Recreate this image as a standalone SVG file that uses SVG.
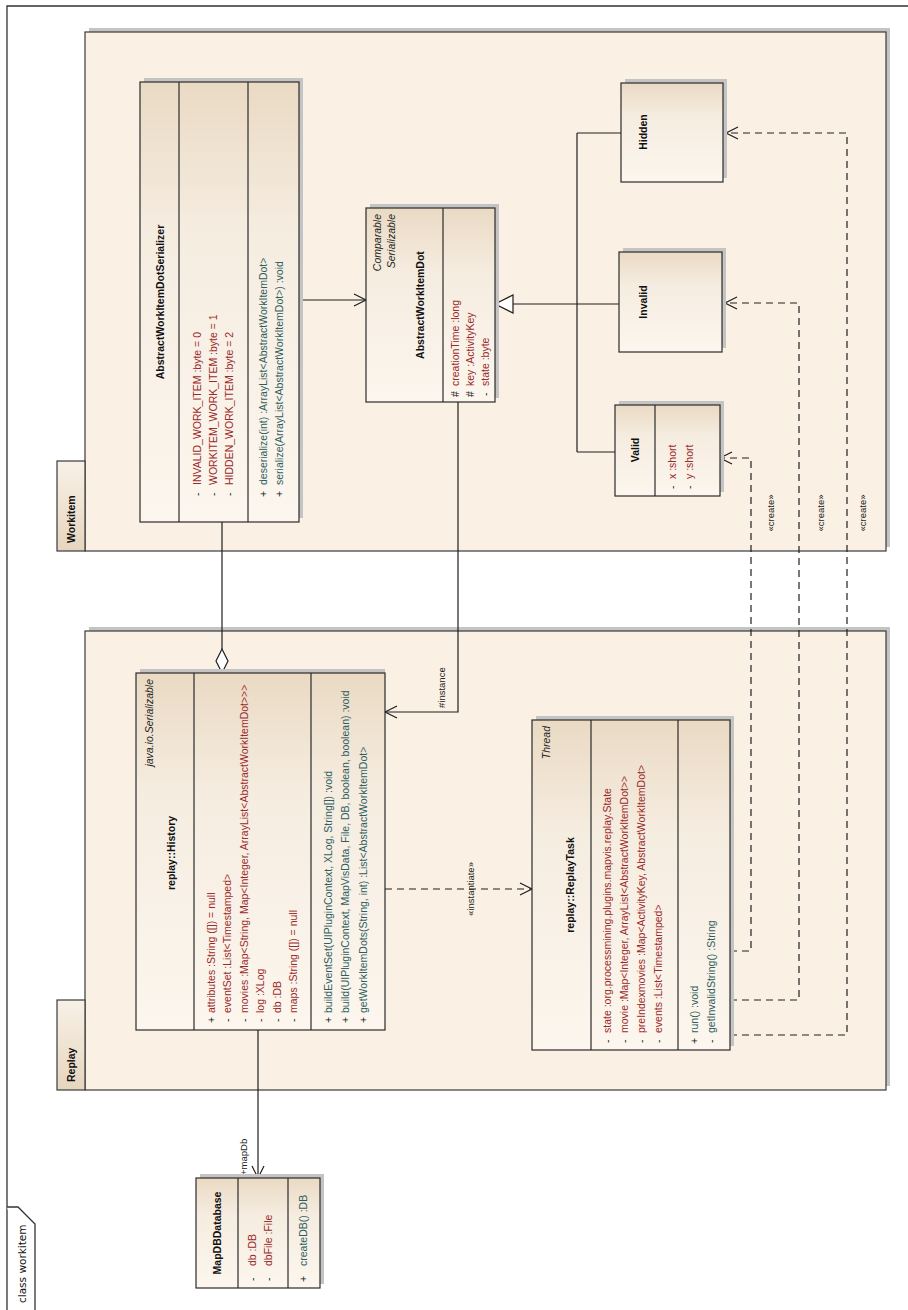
<svg xmlns="http://www.w3.org/2000/svg" width="908" height="1310" viewBox="0 0 908 1310">
  <defs>
    <linearGradient id="clsFill" x1="0" y1="0" x2="0" y2="1">
      <stop offset="0" stop-color="#EADAC4"/>
      <stop offset="0.35" stop-color="#F6EDE1"/>
      <stop offset="1" stop-color="#FCF6EE"/>
    </linearGradient>
    <linearGradient id="tabFill" x1="0" y1="0" x2="0" y2="1">
      <stop offset="0" stop-color="#F8F1E7"/>
      <stop offset="1" stop-color="#E6D5BE"/>
    </linearGradient>
  </defs>
  <style>
    .frame{fill:none;stroke:#333;stroke-width:1.3}
    .pkg{fill:#FAF0E3;stroke:#3a3a3a;stroke-width:1.2}
    .tab{fill:url(#tabFill);stroke:#3a3a3a;stroke-width:1.2}
    .shadow{fill:#C4C4C4}
    .cls{fill:url(#clsFill);stroke:#2b2b2b;stroke-width:1.2}
    .sep{stroke:#2b2b2b;stroke-width:1.2}
    .t{font-family:"Liberation Sans",Arial,sans-serif;font-size:10.5px;fill:#222}
    .nm{font-weight:bold;font-size:10.5px;fill:#111}
    .st{font-style:italic}
    .at{fill:#9A2A2A}
    .op{fill:#2E5E5E}
    .lbl{font-family:"Liberation Sans",Arial,sans-serif;font-size:9.5px;fill:#222}
    .ln{fill:none;stroke:#1e1e1e;stroke-width:1.2}
    .dash{stroke-dasharray:7,5}
    .head{fill:none;stroke:#1e1e1e;stroke-width:1.2}
  </style>

  <!-- diagram frame -->
  <g id="frame">
    <path class="frame" d="M7,1310 V6 H908"/>
    <path d="M7,1207 H18 L35,1224 V1310" fill="#fff" stroke="#333" stroke-width="1.3"/>
    <text transform="translate(26,1303) rotate(-90)" style="font-family:'DejaVu Sans',sans-serif;font-size:10.5px;fill:#111">class workitem</text>
  </g>

  <!-- packages -->
  <g id="pkg-workitem">
    <rect class="shadow" x="89" y="28" width="801" height="519"/>
    <rect class="pkg" x="85" y="32" width="801" height="519"/>
    <rect class="tab" x="57" y="461" width="28" height="90"/>
    <text class="t nm" transform="translate(75,543) rotate(-90)">Workitem</text>
  </g>
  <g id="pkg-replay">
    <rect class="shadow" x="89" y="627" width="801" height="459"/>
    <rect class="pkg" x="85" y="631" width="801" height="459"/>
    <rect class="tab" x="57" y="1000" width="28" height="90"/>
    <text class="t nm" transform="translate(75,1082) rotate(-90)">Replay</text>
  </g>

  <!-- connectors -->
  <g id="connectors">
    <!-- Serializer uses AbstractWorkItemDot -->
    <path class="ln" d="M299,300 H366"/>
    <path class="head" d="M354,294 L366,300 L354,306"/>
    <!-- aggregation Serializer <> History -->
    <path class="ln" d="M222,522 V649"/>
    <path d="M222,673 L228,661 L222,649 L216,661 Z" fill="#fff" stroke="#1e1e1e" stroke-width="1.2"/>
    <!-- History #instance -> AbstractWorkItemDot -->
    <path class="ln" d="M458,402 V712 H385"/>
    <path class="head" d="M397,706 L385,712 L397,718"/>
    <text class="lbl" transform="translate(445,708) rotate(-90)">#instance</text>
    <!-- History +mapDb -> MapDBDatabase -->
    <path class="ln" d="M258,1030 V1178"/>
    <path class="head" d="M252,1166 L258,1178 L264,1166"/>
    <text class="lbl" transform="translate(247,1175) rotate(-90)">+mapDb</text>
    <!-- History instantiates ReplayTask -->
    <path class="ln dash" d="M385,889 H532"/>
    <path class="head" d="M520,883 L532,889 L520,895"/>
    <text class="lbl" text-anchor="middle" transform="translate(474,889) rotate(-90)">«instantiate»</text>
    <!-- generalization: Valid / Invalid / Hidden -> AbstractWorkItemDot -->
    <path class="ln" d="M513,304 H577 M577,133 V452 M577,133 H621 M577,304 H619 M577,452 H615"/>
    <path d="M495,304 L513,295 L513,313 Z" fill="#fff" stroke="#1e1e1e" stroke-width="1.2"/>
    <!-- ReplayTask creates Valid / Invalid / Hidden -->
    <path class="ln dash" d="M730,951 H751 V458 H720"/>
    <path class="head" d="M732,452 L720,458 L732,464"/>
    <path class="ln dash" d="M730,1000 H799 V303 H725"/>
    <path class="head" d="M737,297 L725,303 L737,309"/>
    <path class="ln dash" d="M730,1035 H847 V133 H726"/>
    <path class="head" d="M738,127 L726,133 L738,139"/>
    <text class="lbl" text-anchor="middle" transform="translate(774,513) rotate(-90)">«create»</text>
    <text class="lbl" text-anchor="middle" transform="translate(824,513) rotate(-90)">«create»</text>
    <text class="lbl" text-anchor="middle" transform="translate(866,513) rotate(-90)">«create»</text>
  </g>

  <!-- AbstractWorkItemDotSerializer -->
  <g id="cls-serializer">
    <rect class="shadow" x="144" y="78" width="159" height="440"/>
    <rect class="cls" x="140" y="82" width="159" height="440"/>
    <path class="sep" d="M179,82 V522 M248,82 V522"/>
    <text class="t nm" text-anchor="middle" transform="translate(164,302) rotate(-90)">AbstractWorkItemDotSerializer</text>
    <text class="t" transform="translate(200.5,496) rotate(-90)">-</text>
    <text class="t at" transform="translate(200.5,485) rotate(-90)">INVALID_WORK_ITEM :byte = 0</text>
    <text class="t" transform="translate(216.5,496) rotate(-90)">-</text>
    <text class="t at" transform="translate(216.5,485) rotate(-90)">WORKITEM_WORK_ITEM :byte = 1</text>
    <text class="t" transform="translate(232.5,496) rotate(-90)">-</text>
    <text class="t at" transform="translate(232.5,485) rotate(-90)">HIDDEN_WORK_ITEM :byte = 2</text>
    <text class="t" transform="translate(267,497) rotate(-90)">+</text>
    <text class="t op" transform="translate(267,485) rotate(-90)">deserialize(int) :ArrayList&lt;AbstractWorkItemDot&gt;</text>
    <text class="t" transform="translate(283,497) rotate(-90)">+</text>
    <text class="t op" transform="translate(283,485) rotate(-90)">serialize(ArrayList&lt;AbstractWorkItemDot&gt;) :void</text>
  </g>

  <!-- AbstractWorkItemDot -->
  <g id="cls-abstractworkitemdot">
    <rect class="shadow" x="370" y="204" width="129" height="194"/>
    <rect class="cls" x="366" y="208" width="129" height="194"/>
    <path class="sep" d="M443,208 V402"/>
    <text class="t st" text-anchor="end" transform="translate(381,214) rotate(-90)">Comparable</text>
    <text class="t st" text-anchor="end" transform="translate(395,214) rotate(-90)">Serializable</text>
    <text class="t nm" text-anchor="middle" transform="translate(424,305) rotate(-90)">AbstractWorkItemDot</text>
    <text class="t" transform="translate(458.5,397) rotate(-90)">#</text>
    <text class="t at" transform="translate(458.5,386) rotate(-90)">creationTime :long</text>
    <text class="t" transform="translate(473.5,397) rotate(-90)">#</text>
    <text class="t at" transform="translate(473.5,386) rotate(-90)">key :ActivityKey</text>
    <text class="t" transform="translate(488.5,396) rotate(-90)">-</text>
    <text class="t at" transform="translate(488.5,386) rotate(-90)">state :byte</text>
  </g>

  <!-- Hidden -->
  <g id="cls-hidden">
    <rect class="shadow" x="625" y="79" width="102" height="99"/>
    <rect class="cls" x="621" y="83" width="102" height="99"/>
    <text class="t nm" text-anchor="middle" transform="translate(647,132) rotate(-90)">Hidden</text>
  </g>

  <!-- Invalid -->
  <g id="cls-invalid">
    <rect class="shadow" x="623" y="248" width="103" height="100"/>
    <rect class="cls" x="619" y="252" width="103" height="100"/>
    <text class="t nm" text-anchor="middle" transform="translate(647,302) rotate(-90)">Invalid</text>
  </g>

  <!-- Valid -->
  <g id="cls-valid">
    <rect class="shadow" x="619" y="401" width="105" height="91"/>
    <rect class="cls" x="615" y="405" width="105" height="91"/>
    <path class="sep" d="M655,405 V496"/>
    <text class="t nm" text-anchor="middle" transform="translate(639,450) rotate(-90)">Valid</text>
    <text class="t" transform="translate(675.5,489) rotate(-90)">-</text>
    <text class="t at" transform="translate(675.5,479) rotate(-90)">x :short</text>
    <text class="t" transform="translate(692.5,489) rotate(-90)">-</text>
    <text class="t at" transform="translate(692.5,479) rotate(-90)">y :short</text>
  </g>

  <!-- replay::History -->
  <g id="cls-history">
    <rect class="shadow" x="140" y="669" width="245" height="361"/>
    <rect class="cls" x="136" y="673" width="249" height="357"/>
    <path class="sep" d="M194,673 V1030 M311,673 V1030"/>
    <text class="t st" text-anchor="end" transform="translate(153,679) rotate(-90)">java.io.Serializable</text>
    <text class="t nm" text-anchor="middle" transform="translate(175,853) rotate(-90)">replay::History</text>
    <text class="t" transform="translate(214.5,1023) rotate(-90)">+</text>
    <text class="t at" transform="translate(214.5,1013) rotate(-90)">attributes :String ([]) = null</text>
    <text class="t" transform="translate(231,1022) rotate(-90)">-</text>
    <text class="t at" transform="translate(231,1013) rotate(-90)">eventSet :List&lt;Timestamped&gt;</text>
    <text class="t" transform="translate(247.5,1022) rotate(-90)">-</text>
    <text class="t at" transform="translate(247.5,1013) rotate(-90)">movies :Map&lt;String, Map&lt;Integer, ArrayList&lt;AbstractWorkItemDot&gt;&gt;&gt;</text>
    <text class="t" transform="translate(264,1022) rotate(-90)">-</text>
    <text class="t at" transform="translate(264,1013) rotate(-90)">log :XLog</text>
    <text class="t" transform="translate(280.5,1022) rotate(-90)">-</text>
    <text class="t at" transform="translate(280.5,1013) rotate(-90)">db :DB</text>
    <text class="t" transform="translate(297,1022) rotate(-90)">-</text>
    <text class="t at" transform="translate(297,1013) rotate(-90)">maps :String ([]) = null</text>
    <text class="t" transform="translate(331.5,1023) rotate(-90)">+</text>
    <text class="t op" transform="translate(331.5,1013) rotate(-90)">buildEventSet(UIPluginContext, XLog, String[]) :void</text>
    <text class="t" transform="translate(349,1023) rotate(-90)">+</text>
    <text class="t op" transform="translate(349,1013) rotate(-90)">build(UIPluginContext, MapVisData, File, DB, boolean, boolean) :void</text>
    <text class="t" transform="translate(366.5,1023) rotate(-90)">+</text>
    <text class="t op" transform="translate(366.5,1013) rotate(-90)">getWorkItemDots(String, int) :List&lt;AbstractWorkItemDot&gt;</text>
  </g>

  <!-- replay::ReplayTask -->
  <g id="cls-replaytask">
    <rect class="shadow" x="536" y="716" width="198" height="330"/>
    <rect class="cls" x="532" y="720" width="198" height="330"/>
    <path class="sep" d="M591,720 V1050 M678,720 V1050"/>
    <text class="t st" text-anchor="end" transform="translate(550,726) rotate(-90)">Thread</text>
    <text class="t nm" text-anchor="middle" transform="translate(574,885) rotate(-90)">replay::ReplayTask</text>
    <text class="t" transform="translate(610.5,1043) rotate(-90)">-</text>
    <text class="t at" transform="translate(610.5,1033) rotate(-90)">state :org.processmining.plugins.mapvis.replay.State</text>
    <text class="t" transform="translate(627.5,1043) rotate(-90)">-</text>
    <text class="t at" transform="translate(627.5,1033) rotate(-90)">movie :Map&lt;Integer, ArrayList&lt;AbstractWorkItemDot&gt;&gt;</text>
    <text class="t" transform="translate(644.5,1043) rotate(-90)">-</text>
    <text class="t at" transform="translate(644.5,1033) rotate(-90)">preIndexmovies :Map&lt;ActivityKey, AbstractWorkItemDot&gt;</text>
    <text class="t" transform="translate(661.5,1043) rotate(-90)">-</text>
    <text class="t at" transform="translate(661.5,1033) rotate(-90)">events :List&lt;Timestamped&gt;</text>
    <text class="t" transform="translate(697.5,1044) rotate(-90)">+</text>
    <text class="t op" transform="translate(697.5,1033) rotate(-90)">run() :void</text>
    <text class="t" transform="translate(714.5,1043) rotate(-90)">-</text>
    <text class="t op" transform="translate(714.5,1033) rotate(-90)">getInvalidString() :String</text>
  </g>

  <!-- MapDBDatabase -->
  <g id="cls-mapdb">
    <rect class="shadow" x="200" y="1174" width="124" height="110"/>
    <rect class="cls" x="196" y="1178" width="124" height="110"/>
    <path class="sep" d="M238,1178 V1288 M288,1178 V1288"/>
    <text class="t nm" text-anchor="middle" transform="translate(221,1233) rotate(-90)">MapDBDatabase</text>
    <text class="t" transform="translate(256,1281) rotate(-90)">-</text>
    <text class="t at" transform="translate(256,1266) rotate(-90)">db :DB</text>
    <text class="t" transform="translate(272,1281) rotate(-90)">-</text>
    <text class="t at" transform="translate(272,1266) rotate(-90)">dbFile :File</text>
    <text class="t" transform="translate(307,1282) rotate(-90)">+</text>
    <text class="t op" transform="translate(307,1266) rotate(-90)">createDB() :DB</text>
  </g>
</svg>
